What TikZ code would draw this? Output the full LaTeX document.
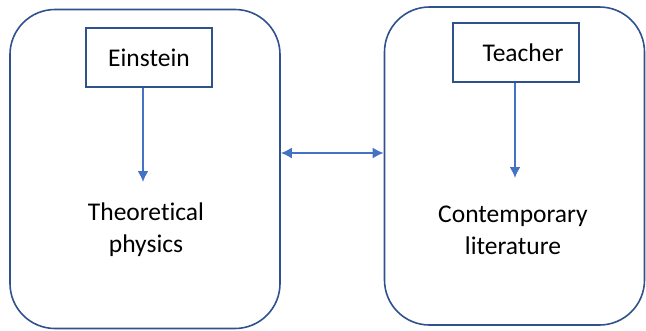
\documentclass[tikz,border=0pt]{standalone}
\usepackage{fontspec}
\setmainfont{Carlito}[Ligatures=NoCommon]
\usepackage{tikz}
\usetikzlibrary{shapes,arrows.meta}
\usetikzlibrary{positioning}
\definecolor{frameblue}{HTML}{2F528F}
\definecolor{arrowblue}{HTML}{4472C4}
\tikzstyle{panel} = [rectangle, draw=frameblue, line width=1.6pt, rounded corners=45pt]
\tikzstyle{namebox} = [rectangle, draw=frameblue, line width=1.6pt, minimum width=126pt,
minimum height=59pt, inner sep=0pt, text depth=0pt]
\tikzstyle{field} = [align=center, inner sep=0pt]
\tikzstyle{line} = [draw, -{Latex[length=11pt,width=11pt]}, color=arrowblue, line width=1.8pt]

\begin{document}
\begin{tikzpicture}[x=1pt, y=-1pt, font=\fontsize{25.5}{32}\selectfont]
	\useasboundingbox (0,0) rectangle (646,330);
	%% Panels
	\node [panel, minimum width=270pt, minimum height=319pt] (L) at (145,169) {};
	\node [panel, minimum width=260pt, minimum height=318pt] (R) at (514.5,166) {};
	%% Boxes and labels
	\node [namebox] (einstein) at (149,57.5) {Einstein};
	\node [namebox] (teacher) at (516,52.5) {\hspace*{14pt}Teacher};
	\node [field] (theo) at (146,230) {Theoretical\\physics};
	\node [field] (cont) at (513,230) {Contemporary\\literature};
	\coordinate (t1) at (143,182);
	\coordinate (t2) at (515,178);
	\coordinate (m) at (0,153);
	%% Flows
	\path [line] (einstein.south -| t1) -- (t1);
	\path [line] (teacher.south -| t2) -- (t2);
	\path [line, {Latex[length=11pt,width=11pt]}-{Latex[length=11pt,width=11pt]}] (L.east |- m) -- (R.west |- m);
\end{tikzpicture}
\end{document}
